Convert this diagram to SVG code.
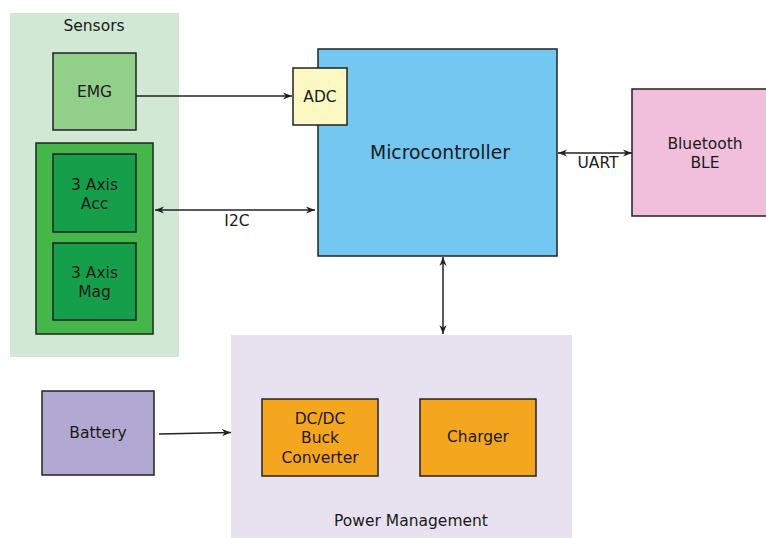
<svg xmlns="http://www.w3.org/2000/svg" width="766" height="538" viewBox="0 0 766 538">
<defs>
<style>
text{font-family:"DejaVu Sans",Verdana,sans-serif;font-size:15.5px;fill:#1a1a1a;text-anchor:middle}
.box{stroke:#222;stroke-width:1.5}
.ln{stroke:#222;stroke-width:1.5;fill:none}
</style>
<marker id="ah" viewBox="0 0 10 10" refX="10" refY="5" markerWidth="9" markerHeight="9" markerUnits="userSpaceOnUse" orient="auto-start-reverse">
<path d="M0,1 L10,5 L0,9 L3,5 z" fill="#222"/>
</marker>
</defs>
<rect width="766" height="538" fill="#fff"/>
<g id="sensors">
<rect x="10" y="13" width="169" height="344" fill="#d0e8d4"/>
<text x="94" y="31">Sensors</text>
</g>
<g id="power">
<rect x="231" y="335" width="341" height="203" fill="#e8e2f0"/>
<text x="411" y="526">Power Management</text>
</g>
<g id="emg">
<rect class="box" x="53" y="53" width="83" height="77" fill="#92cf8a"/>
<text x="94.5" y="97">EMG</text>
</g>
<g id="imu">
<rect class="box" x="36" y="143" width="117" height="191" fill="#44b64a"/>
</g>
<g id="acc">
<rect class="box" x="53" y="154" width="83" height="78" fill="#169f4a"/>
<text x="94.5" y="190">3 Axis</text>
<text x="94.5" y="209">Acc</text>
</g>
<g id="mag">
<rect class="box" x="53" y="243" width="83" height="77" fill="#169f4a"/>
<text x="94.5" y="278">3 Axis</text>
<text x="94.5" y="297">Mag</text>
</g>
<g id="mcu">
<rect class="box" x="318" y="49" width="239" height="207" fill="#74c7f0"/>
<text x="440" y="159" style="font-size:18.8px">Microcontroller</text>
</g>
<g id="adc">
<rect class="box" x="293" y="68" width="54" height="57" fill="#fbf8c4"/>
<text x="320" y="102">ADC</text>
</g>
<g id="ble">
<rect class="box" x="632" y="89" width="140" height="127" fill="#f1bfdb"/>
<text x="705" y="149">Bluetooth</text>
<text x="705" y="168">BLE</text>
</g>
<g id="dcdc">
<rect class="box" x="262" y="399" width="116" height="77" fill="#f5a61f"/>
<text x="320" y="424">DC/DC</text>
<text x="320" y="443">Buck</text>
<text x="320" y="463">Converter</text>
</g>
<g id="charger">
<rect class="box" x="420" y="399" width="116" height="77" fill="#f5a61f"/>
<text x="478" y="442">Charger</text>
</g>
<g id="battery">
<rect class="box" x="42" y="391" width="112" height="84" fill="#b2a9d3"/>
<text x="98" y="438">Battery</text>
</g>
<g id="connectors">
<line class="ln" x1="136" y1="96" x2="292" y2="96" marker-end="url(#ah)"/>
<line class="ln" x1="155" y1="210" x2="315" y2="210" marker-start="url(#ah)" marker-end="url(#ah)"/>
<text x="237" y="226">I2C</text>
<line class="ln" x1="558" y1="153" x2="632" y2="153" marker-start="url(#ah)" marker-end="url(#ah)"/>
<text x="598" y="168">UART</text>
<line class="ln" x1="443" y1="257" x2="443" y2="334" marker-start="url(#ah)" marker-end="url(#ah)"/>
<line class="ln" x1="159" y1="434" x2="231" y2="432.5" marker-end="url(#ah)"/>
</g>
</svg>
